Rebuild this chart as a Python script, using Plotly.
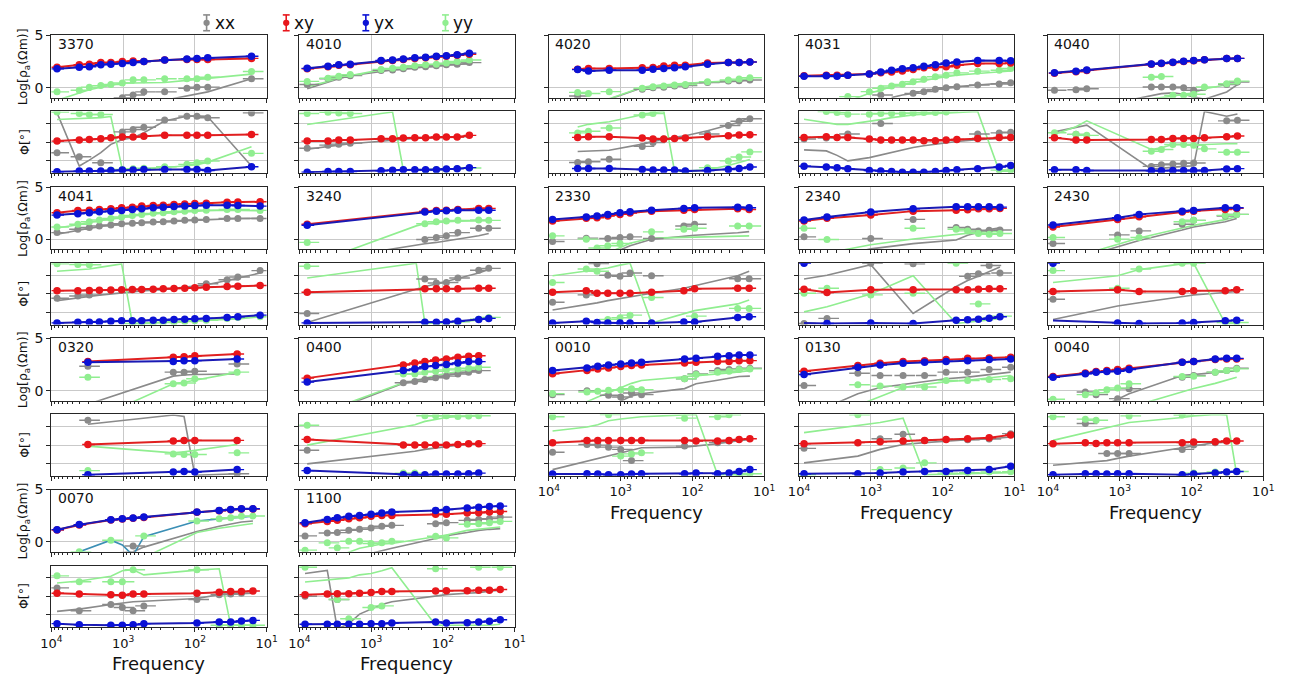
import plotly.graph_objects as go

# ---------------- data ----------------
STATIONS = ["3370", "4010", "4020", "4031", "4040",
            "4041", "3240", "2330", "2340", "2430",
            "0320", "0400", "0010", "0130", "0040",
            "0070", "1100"]

COMPONENTS = ["xx", "xy", "yx", "yy"]
X_TICK_VALS = [1e4, 1e3, 1e2, 1e1]
X_TICK_TEXT = ["10<sup>4</sup>", "10<sup>3</sup>", "10<sup>2</sup>", "10<sup>1</sup>"]
RHO_TICKS = [0, 5]
PHI_TICKS = [-90, 0, 90]

# log10 of the sounding frequencies (Hz)
LOG10_FREQ = {
    "3370": [3.92, 3.61, 3.47, 3.31, 3.17, 3.01, 2.86, 2.71, 2.42, 2.11, 1.97, 1.82, 1.21],
    "4010": [3.89, 3.6, 3.45, 3.29, 2.86, 2.7, 2.55, 2.39, 2.24, 2.09, 1.95, 1.8, 1.63],
    "4020": [3.6, 3.45, 3.16, 2.7, 2.55, 2.4, 2.25, 2.1, 1.79, 1.5, 1.35, 1.2],
    "4031": [3.93, 3.62, 3.47, 3.32, 3.02, 2.86, 2.71, 2.56, 2.41, 2.26, 2.1, 1.95, 1.8, 1.51, 1.21, 1.05],
    "4040": [3.91, 3.61, 3.46, 2.56, 2.42, 2.26, 2.11, 1.97, 1.82, 1.51, 1.36],
    "4041": [3.92, 3.63, 3.47, 3.33, 3.17, 3.02, 2.87, 2.74, 2.58, 2.44, 2.29, 2.14, 2.0, 1.84, 1.55, 1.4, 1.09],
    "3240": [3.89, 2.37, 2.25, 2.09, 1.95, 1.79, 1.5, 1.36],
    "2330": [3.95, 3.48, 3.33, 3.18, 3.01, 2.87, 2.57, 2.12, 1.97, 1.37, 1.21],
    "2340": [3.93, 3.61, 3.0, 2.41, 1.81, 1.65, 1.5, 1.35, 1.2],
    "2430": [3.93, 3.03, 2.73, 2.13, 1.97, 1.53, 1.37],
    "0320": [3.49, 2.3, 2.15, 2.0, 1.41],
    "0400": [3.89, 2.55, 2.39, 2.25, 2.1, 1.95, 1.79, 1.64, 1.5],
    "0010": [3.95, 3.47, 3.32, 3.17, 3.0, 2.85, 2.71, 2.11, 1.95, 1.65, 1.49, 1.35, 1.2],
    "0130": [3.93, 3.18, 2.87, 2.55, 2.25, 1.95, 1.65, 1.35, 1.05],
    "0040": [3.93, 3.48, 3.33, 3.18, 3.03, 2.87, 2.13, 1.97, 1.67, 1.51, 1.37],
    "0070": [3.92, 3.61, 3.17, 3.01, 2.86, 2.71, 1.97, 1.66, 1.5, 1.35, 1.19],
    "1100": [3.92, 3.61, 3.47, 3.31, 3.16, 3.0, 2.85, 2.71, 2.1, 1.95, 1.66, 1.5, 1.35, 1.2],
}

# log10 apparent resistivity, observed
RHO_XY = {
    "3370": [1.95, 2.2, 2.25, 2.4, 2.4, 2.5, 2.55, 2.5, 2.65, 2.7, 2.7, 2.7, 2.8],
    "4010": [1.8, 2.0, 2.15, 2.2, 2.55, 2.6, 2.7, 2.8, 2.85, 2.95, 3.0, 3.1, 3.2],
    "4020": [1.77, 1.83, 1.83, 1.9, 1.92, 2.08, 2.15, 2.15, 2.37, 2.4, 2.4, 2.45],
    "4031": [1.13, 1.2, 1.2, 1.2, 1.32, 1.42, 1.5, 1.6, 1.73, 1.9, 1.92, 2.0, 2.15, 2.3, 2.3, 2.37],
    "4040": [1.37, 1.53, 1.65, 2.23, 2.3, 2.4, 2.5, 2.57, 2.66, 2.78, 2.8],
    "4041": [2.55, 2.78, 2.8, 2.87, 2.93, 3.03, 3.09, 3.19, 3.25, 3.28, 3.34, 3.4, 3.43, 3.47, 3.56, 3.58, 3.6],
    "3240": [1.45, None, 2.71, 2.78, 2.8, 2.87, 2.97, 2.97],
    "2330": [1.77, 2.02, 2.08, 2.24, 2.4, 2.52, 2.71, 2.8, 2.87, 2.93, 2.87],
    "2340": [1.77, 2.02, 2.33, 2.71, 2.8, 2.85, 2.93, 2.93, 2.97],
    "2430": [1.2, 1.92, 2.18, 2.62, 2.71, 2.87, 2.97],
    "0320": [2.78, 3.19, 3.25, 3.34, 3.5],
    "0400": [1.2, 2.46, 2.65, 2.8, 2.93, 3.03, 3.19, 3.28, 3.34],
    "0010": [1.61, 1.92, 2.08, 2.18, 2.3, 2.4, 2.46, 2.65, 2.71, 2.78, 2.8, 2.87, 2.87],
    "0130": [1.86, 2.4, 2.62, 2.78, 2.87, 2.97, 3.09, 3.12, 3.19],
    "0040": [1.36, 1.7, 1.83, 1.92, 2.02, 2.15, 2.71, 2.8, 2.97, 3.03, 3.03],
    "0070": [1.14, 1.62, 2.1, 2.19, 2.25, 2.34, 2.83, 2.98, 3.08, 3.14, 3.14],
    "1100": [1.74, 1.96, 2.06, 2.22, 2.31, 2.44, 2.53, 2.53, 2.63, 2.63, 2.75, 2.78, 2.85, 2.91],
}
RHO_YX = {
    "3370": [1.8, 1.95, 2.0, 2.2, 2.25, 2.3, 2.4, 2.5, 2.65, 2.75, 2.8, 2.85, 3.0],
    "4010": [1.85, 2.05, 2.2, 2.25, 2.6, 2.65, 2.75, 2.85, 2.9, 3.0, 3.05, 3.15, 3.3],
    "4020": [1.73, 1.6, 1.67, 1.67, 1.77, 1.83, 1.9, 2.0, 2.25, 2.4, 2.4, 2.45],
    "4031": [1.1, 1.14, 1.1, 1.2, 1.32, 1.5, 1.67, 1.8, 1.9, 2.05, 2.2, 2.37, 2.46, 2.6, 2.6, 2.58],
    "4040": [1.42, 1.58, 1.7, 2.27, 2.33, 2.43, 2.52, 2.59, 2.68, 2.8, 2.8],
    "4041": [2.33, 2.46, 2.55, 2.65, 2.71, 2.78, 2.87, 2.93, 3.03, 3.09, 3.15, 3.2, 3.24, 3.28, 3.28, 3.25, 3.19],
    "3240": [1.36, None, 2.62, 2.71, 2.74, 2.8, 2.8, 2.8],
    "2330": [1.92, 2.15, 2.24, 2.4, 2.56, 2.65, 2.8, 2.97, 3.03, 3.09, 3.03],
    "2340": [1.86, 2.15, 2.62, 2.93, 3.12, 3.12, 3.12, 3.12, 3.09],
    "2430": [1.39, 2.08, 2.4, 2.71, 2.78, 3.03, 3.03],
    "0320": [2.71, 2.8, 2.87, 2.87, 3.03],
    "0400": [0.82, 1.92, 2.08, 2.3, 2.4, 2.5, 2.65, 2.78, 2.78],
    "0010": [1.92, 2.18, 2.33, 2.46, 2.56, 2.65, 2.71, 3.03, 3.09, 3.28, 3.34, 3.4, 3.4],
    "0130": [1.55, 2.24, 2.46, 2.62, 2.71, 2.8, 2.87, 2.97, 3.03],
    "0040": [1.29, 1.61, 1.77, 1.83, 1.86, 2.02, 2.71, 2.78, 3.03, 3.09, 3.09],
    "0070": [1.17, 1.65, 2.12, 2.22, 2.28, 2.37, 2.85, 3.0, 3.1, 3.16, 3.16],
    "1100": [1.84, 2.15, 2.31, 2.44, 2.53, 2.63, 2.75, 2.85, 3.0, 3.1, 3.23, 3.32, 3.39, 3.42],
}
RHO_XX = {
    "3370": [None, None, None, None, None, -0.95, -0.7, -0.4, -0.4, -0.05, 0.05, 0.05, 0.85],
    "4010": [0.3, 0.85, 1.0, 1.15, 1.65, 1.7, 1.8, 1.95, 2.0, 2.1, 2.2, 2.25, 2.4],
    "4020": [-0.8, None, None, -0.15, 0.0, 0.05, 0.15, 0.2, 0.5, 0.63, 0.66, 0.73],
    "4031": [None, None, None, None, None, -0.7, None, None, -0.54, -0.38, -0.16, 0.0, 0.1, 0.25, 0.35, 0.47],
    "4040": [-0.25, -0.19, -0.1, 0.06, 0.06, 0.06, 0.0, -0.25, None, 0.3, 0.54],
    "4041": [0.66, 0.98, 1.14, 1.3, 1.39, 1.51, 1.55, 1.6, 1.67, 1.7, 1.77, 1.83, 1.86, 1.92, 2.0, 2.0, 2.0],
    "3240": [None, None, 0.0, 0.2, 0.35, 0.66, 1.07, 1.07],
    "2330": [-0.19, 0.13, None, 0.1, 0.19, 0.25, 0.1, 1.29, 1.45, None, None],
    "2340": [0.25, None, 0.1, 1.92, 1.14, 0.98, 0.82, 0.88, 0.91],
    "2430": [-0.38, 0.44, 0.82, 1.45, 1.83, 2.24, 2.4],
    "0320": [2.33, 1.77, 1.77, 1.86, 2.55],
    "0400": [None, 0.76, 0.88, 1.07, 1.23, 1.39, 1.6, 1.77, 1.92],
    "0010": [-0.38, 0.0, None, -0.44, -0.6, -0.22, -0.38, 1.14, 1.61, 1.92, 2.02, 2.08, 2.15],
    "0130": [0.5, 1.67, 1.45, 1.45, 1.45, 1.77, 1.77, 2.02, 2.24],
    "0040": [None, -0.13, -0.38, None, -0.76, 0.19, 1.29, 1.45, 1.77, 1.92, 2.15],
    "0070": [None, None, None, None, -0.4, None, None, None, None, None, None],
    "1100": [0.57, 0.85, 0.89, 1.11, 1.2, 1.33, 1.49, 1.58, 1.74, 1.84, 2.06, 2.15, 2.22, 2.37],
}
RHO_YY = {
    "3370": [-0.4, -0.25, 0.05, 0.2, 0.3, 0.45, 0.75, 0.75, 0.85, 0.85, 0.85, 1.0, 1.55],
    "4010": [0.6, 0.9, 1.1, 1.25, 1.75, 1.85, 1.95, 2.1, 2.2, 2.25, 2.35, 2.5, 2.65],
    "4020": [-0.45, -0.55, -0.38, -0.06, 0.1, 0.16, 0.25, 0.3, 0.57, 0.73, 0.82, 0.95],
    "4031": [None, None, None, -0.85, -0.38, -0.06, 0.16, 0.32, 0.57, 0.8, 1.04, 1.2, 1.42, 1.58, 1.67, 1.83],
    "4040": [None, None, None, 1.0, 1.07, -0.73, -0.73, -0.63, 0.06, 0.38, 0.63],
    "4041": [1.2, 1.45, 1.7, 1.86, 2.0, 2.15, 2.3, 2.4, 2.5, 2.55, 2.65, 2.71, 2.78, 2.8, 2.87, 2.87, 2.78],
    "3240": [-0.28, None, 1.51, 1.7, 1.77, 1.83, 1.86, 1.83],
    "2330": [0.35, 0.03, -0.82, -0.6, -0.38, None, 0.73, 0.98, 1.07, 1.29, 1.29],
    "2340": [1.07, 0.0, None, 1.07, 0.98, 0.82, 0.57, 0.5, 0.57],
    "2430": [0.19, 0.03, 0.19, 1.7, 1.83, 2.3, 2.4],
    "0320": [1.29, 0.66, 0.73, 1.14, 1.77],
    "0400": [None, 1.6, 1.6, 1.77, 1.86, 1.99, 2.08, 2.15, 2.24],
    "0010": [-0.28, -0.13, -0.06, 0.03, 0.1, 0.19, 0.1, 1.14, 1.55, 1.77, 1.86, 2.02, 2.08],
    "0130": [None, 0.57, 0.44, 0.35, 0.35, 0.98, 0.98, 1.07, 1.14],
    "0040": [-0.82, -0.38, -0.19, 0.1, 0.25, 0.66, 1.36, 1.39, 1.77, 1.92, 2.08],
    "0070": [None, -0.95, 0.16, None, None, 0.57, 2.0, 2.22, 2.31, 2.44, 2.47],
    "1100": [-0.79, -0.09, -0.57, 0.06, 0.06, -0.16, -0.09, 0.06, 0.54, 0.38, 1.68, 1.74, 1.84, 1.96],
}
# log10 apparent resistivity, model response (diagonal components)
MOD_RHO_XX = {
    "3370": [None, None, None, None, None, None, None, None, -1.2, -0.75, -0.55, -0.4, 0.85],
    "4010": [-0.1, 0.55, 0.85, 1.15, 1.6, 1.7, 1.8, 1.9, 2.0, 2.1, 2.15, 2.2, 2.35],
    "4020": [None, None, -1.1, 0.0, 0.15, 0.25, 0.3, 0.4, 0.5, 0.57, 0.63, 0.8],
    "4031": [None, None, None, None, None, None, -0.95, -0.7, -0.54, -0.3, -0.16, 0.0, 0.1, 0.25, 0.37, 0.5],
    "4040": [None, None, -2.0, -0.73, -0.57, -0.5, -0.63, -0.88, -1.1, -0.41, 0.3],
    "4041": [0.5, 0.9, 1.1, 1.25, 1.37, 1.48, 1.55, 1.6, 1.65, 1.7, 1.75, 1.8, 1.85, 1.9, 1.97, 2.0, 2.02],
    "3240": [-2.2, -0.5, -0.41, -0.28, -0.13, 0.03, 0.35, 0.57],
    "2330": [None, None, None, -1.6, -1.0, -0.6, 0.03, 0.3, 0.4, 0.65, 0.75],
    "2340": [None, -1.8, -0.9, -0.4, -0.05, 0.4, 0.7, 0.95, 1.12],
    "2430": [-2.5, -0.7, -0.1, 0.9, 1.2, 1.7, 2.0],
    "0320": [-1.3, 1.39, 1.5, 1.55, 1.6],
    "0400": [-2.8, 0.7, 0.9, 1.1, 1.3, 1.45, 1.65, 1.8, 1.9],
    "0010": [None, None, None, -1.4, -1.0, -0.5, -0.3, 0.2, 0.66, 1.0, 1.2, 1.35, 1.39],
    "0130": [-2.5, -0.3, 0.3, 0.6, 0.9, 1.14, 1.3, 1.5, 1.77],
    "0040": [None, None, None, -1.3, -0.8, -0.3, 1.45, 1.55, 1.7, 1.8, 1.92],
    "0070": [None, None, -1.1, -1.0, -0.95, -0.5, 1.0, 1.5, 1.7, 1.9, 2.0],
    "1100": [None, None, None, None, None, -1.1, -0.85, -0.6, 0.32, 0.6, 0.9, 1.1, 1.2, 1.27],
}
MOD_RHO_YY = {
    "3370": [-1.2, -0.5, -0.2, 0.05, 0.25, 0.45, 0.45, 0.45, 0.5, 0.7, 0.8, 0.85, 1.3],
    "4010": [0.1, 0.6, 0.95, 1.15, 1.7, 1.8, 1.9, 2.05, 2.15, 2.2, 2.3, 2.45, 2.6],
    "4020": [None, None, -1.05, 0.05, 0.18, 0.28, 0.33, 0.42, 0.55, 0.62, 0.68, 0.85],
    "4031": [None, None, None, -1.3, -0.54, -0.22, 0.1, 0.3, 0.5, 0.73, 0.88, 1.04, 1.2, 1.35, 1.5, 1.6],
    "4040": [None, None, -2.2, -1.05, -0.95, -0.82, -0.6, -0.5, -0.1, 0.22, 0.44],
    "4041": [1.1, 1.4, 1.65, 1.82, 1.97, 2.1, 2.25, 2.35, 2.45, 2.52, 2.6, 2.67, 2.72, 2.76, 2.8, 2.8, 2.75],
    "3240": [-2.5, 1.3, 1.5, 1.62, 1.7, 1.75, 1.8, 1.8],
    "2330": [None, None, None, -1.3, -0.75, -0.35, 0.13, 0.2, 0.25, 0.3, 0.35],
    "2340": [None, -1.3, -0.5, 0.05, 0.5, 0.6, 0.7, 0.75, 0.78],
    "2430": [-2.3, -0.5, 0.15, 1.1, 1.35, 1.9, 2.2],
    "0320": [-3.0, 0.66, 0.8, 1.0, 1.75],
    "0400": [-2.6, 0.75, 0.95, 1.2, 1.45, 1.65, 1.85, 2.0, 2.1],
    "0010": [-2.5, -1.0, -0.6, -0.2, 0.3, 0.7, 0.98, 1.3, 1.45, 1.6, 1.7, 1.8, 1.92],
    "0130": [None, -1.4, -0.6, 0.3, 0.6, 0.85, 1.0, 1.2, 1.45],
    "0040": [None, None, None, None, None, -1.6, -0.1, 0.2, 0.7, 1.0, 1.29],
    "0070": [None, None, None, None, None, -1.5, 0.9, 1.3, 1.45, 1.6, 1.75],
    "1100": [None, None, -1.4, -1.0, -0.6, -0.4, -0.2, -0.16, 0.47, 0.65, 1.1, 1.2, 1.3, 1.42],
}
# extra (teal) response curve seen only at station 0070
TEAL_RHO = {
    "0070": [None, -0.95, 0.16, -0.3, -1.3, 0.5, 2.0, 2.2, 2.3, 2.4, 2.45],
}

# phases (degrees), observed
PHI_XY = {
    "3370": [5, 10, 13, 16, 21, 25, 25, 29, 33, 33, 33, 33, 37],
    "4010": [5, 5, 10, 10, 16, 16, 20, 21, 21, 25, 25, 25, 33],
    "4020": [23, 26, 26, 20, 15, 15, 18, 20, 26, 31, 35, 36],
    "4031": [23, 26, 23, 23, 15, 10, 10, 10, 10, 7, 7, 10, 13, 18, 23, 23],
    "4040": [21, 10, 10, 13, 13, 18, 18, 18, 21, 26, 30],
    "4041": [16, 16, 17, 18, 19, 20, 21, 22, 23, 25, 26, 28, 30, 33, 36, 38, 41],
    "3240": [8, None, 25, 25, 25, 25, 28, 28],
    "2330": [8, 16, 3, 3, 3, 3, 8, 16, 25, 28, 28],
    "2340": [23, 7, 20, 20, 20, 20, 23, 25, 25],
    "2430": [12, 20, 12, 12, 16, 16, 20],
    "0320": [3, 20, 23, 23, 23],
    "0400": [28, 0, 0, 0, 0, 0, 3, 7, 7],
    "0010": [12, 23, 23, 23, 23, 23, 23, 23, 20, 20, 23, 28, 31],
    "0130": [7, 12, 16, 20, 23, 28, 31, 36, 50],
    "0040": [7, 12, 8, 12, 12, 12, 12, 15, 16, 20, 20],
    "0070": [15, 11, 8, 5, 11, 11, 15, 20, 23, 23, 26],
    "1100": [8, 11, 12, 12, 15, 18, 23, 23, 26, 27, 27, 30, 30, 33],
}
PHI_YX = {
    "3370": [-145, -142, -142, -142, -139, -137, -137, -134, -134, -134, -134, -139, -121],
    "4010": [-147, -144, -144, -144, -140, -138, -135, -135, -135, -135, -132, -130, -125],
    "4020": [-129, -129, -129, -134, -137, -137, -137, -142, -139, -134, -129, -122],
    "4031": [-118, -122, -126, -131, -139, -142, -144, -147, -147, -147, -144, -139, -135, -131, -122, -114],
    "4040": [-135, -135, -139, -140, -140, -139, -139, -139, -139, -132, -130],
    "4041": [-142, -139, -139, -137, -134, -132, -132, -131, -129, -129, -125, -124, -122, -120, -115, -112, -104],
    "3240": [-142, None, -139, -139, -137, -134, -125, -120],
    "2330": [-142, -134, -140, -142, -142, -142, -142, -137, -137, -115, -112],
    "2340": [150, -145, -142, -145, -129, -127, -124, -119, -112],
    "2430": [150, -142, -145, -142, -140, -132, -129],
    "0320": [-145, -132, -129, -132, -120],
    "0400": [-125, -145, -145, -145, -142, -142, -142, -140, -137],
    "0010": [-142, -140, -142, -145, -145, -142, -140, -140, -137, -140, -137, -129, -120],
    "0130": [-140, -140, -137, -132, -129, -129, -125, -120, -104],
    "0040": [-145, -140, -140, -142, -140, -140, -145, -142, -137, -132, -129],
    "0070": [-134, -139, -142, -142, -139, -134, -131, -126, -126, -121, -118],
    "1100": [-137, -137, -137, -137, -137, -134, -134, -131, -126, -131, -129, -126, -122, -115],
}
# yx phase response curve where it differs from the (wrapped) observations
MOD_PHI_YX = {
    "2340": [-142, -145, -142, -145, -129, -127, -124, -119, -112],
    "2430": [-130, -142, -145, -142, -140, -132, -129],
}
PHI_XX = {
    "3370": [-52, -72, None, -101, None, 50, 62, 73, 108, 127, 127, 119, 143],
    "4010": [-30, -15, -10, -5, None, None, None, None, None, None, None, None, None],
    "4020": [-100, -96, -84, -21, -2, 15, None, None, 40, 81, 102, 114],
    "4031": [15, 20, None, 40, None, 91, None, None, None, None, None, None, None, 40, 45, 48],
    "4040": [None, 38, None, -119, -111, -107, -104, -102, None, 104, 107],
    "4041": [-21, -10, -5, None, None, None, None, None, None, None, None, None, None, 50, 69, 83, 114],
    "3240": [-96, None, 73, 53, 56, 78, 116, 125],
    "2330": [-41, -5, 148, 91, 86, 102, 89, None, None, 74, 74],
    "2340": [-145, -120, 150, 147, None, 86, 99, 139, 102],
    "2430": [-26, None, None, None, None, None, None],
    "0320": [122, None, None, None, -140],
    "0400": [-25, None, None, None, None, None, None, None, None],
    "0010": [-35, 3, 0, -10, -21, -76, None, -5, None, 12, 20, None, None],
    "0130": [-16, None, 31, 53, 23, None, 26, 30, 56],
    "0040": [None, 106, None, -41, -41, -41, -21, 0, 12, None, None],
    "0070": [41, -71, -40, -55, -71, -47, -16, 8, 11, 15, None],
    "1100": [0, None, -16, None, None, None, None, None, None, None, None, None, None, None],
}
PHI_YY = {
    "3370": [147, 140, 135, 135, -137, -134, -130, -128, -121, -109, -101, -93, -55],
    "4010": [140, 146, 143, 140, None, None, None, None, -138, -135, -133, -130, -127],
    "4020": [45, 53, 69, 133, 140, None, None, -142, -125, -92, -73, -48],
    "4031": [None, 150, 145, 137, 137, 140, 140, 140, 143, 145, 145, 147, None, None, -137, -137],
    "4040": [46, 38, 33, -45, -36, -12, -12, -16, -33, -50, -50],
    "4041": [147, 144, 143, None, None, None, -145, -145, -142, -140, -139, -135, -132, -129, -120, -116, -112],
    "3240": [135, None, -137, -142, -137, -137, -124, -115],
    "2330": [56, 122, 111, -125, -117, -104, -18, None, -109, -71, -71],
    "2340": [3, 28, -5, 3, 150, None, -49, -119, -109],
    "2430": [114, 28, 122, 150, 150, -140, -140],
    "0320": [-125, -43, -46, -46, -38],
    "0400": [97, -137, -137, 144, 144, 144, 140, 142, 144],
    "0010": [139, None, None, 149, -54, -43, -38, 132, None, 139, 148, -145, -140],
    "0130": [-145, 148, -120, -112, -87, -137, -135, -132, -130],
    "0040": [139, 127, 122, None, None, 143, 147, -137, -132, -132, -129],
    "0070": [100, 71, 71, 71, 130, None, 130, -142, -142, -142, -142],
    "1100": [142, None, -16, -110, None, -55, -47, None, 135, None, None, 142, None, 142],
}
# phases (degrees), model response (diagonal components)
MOD_PHI_XX = {
    "3370": [143, -117, -88, -52, -11, 13, 21, 46, 103, 127, 127, 124, -117],
    "4010": [-35, -20, -15, -8, 5, 12, 15, 18, 20, 22, 22, 23, 28],
    "4020": [-46, -44, -40, -10, 2, 15, 23, 31, 56, 81, 97, 122],
    "4031": [-38, -43, -65, -92, -76, -63, -51, -38, -26, -18, -10, -3, 3, 12, 15, 20],
    "4040": [50, 70, 83, -132, -127, -124, -119, -116, 150, 127, 138],
    "4041": [-33, -22, -13, -6, 0, 7, 12, 15, 18, 20, 27, 33, 38, 45, 66, 78, 102],
    "3240": [-140, 20, 36, 48, 61, 78, 102, 119],
    "2330": [-79, -54, -44, -33, -22, -13, 3, 28, 40, 89, 111],
    "2340": [73, 91, 143, -96, 36, 66, 86, 111, 132],
    "2430": [-125, -59, -43, -13, -5, 7, 12],
    "0320": [102, 147, 140, -148, -140],
    "0400": [-92, -38, -30, -21, -13, -5, 0, 3, 5],
    "0010": [-120, -79, -66, -54, -40, -26, -13, -10, -5, 7, 16, 20, 28],
    "0130": [-87, -54, -21, 3, 12, 20, 26, 30, 40],
    "0040": [-99, -87, -82, -76, -65, -54, -13, -5, 12, 15, 20],
    "0070": [-74, -63, -40, -32, -27, -24, -11, 8, 11, 13, 15],
    "1100": [112, 127, -160, -134, -87, -63, -40, -27, 0, 8, 15, 18, 25, 30],
}
MOD_PHI_YY = {
    "3370": [111, 115, 117, 120, 125, -134, -132, -130, -124, -116, -111, -98, -23],
    "4010": [86, 102, 111, 119, 140, 147, -137, -135, -134, -133, -132, -130, -126],
    "4020": [74, 87, 100, 133, 145, 150, -142, -142, -135, -115, -100, -85],
    "4031": [112, 96, 87, 87, 100, 110, 120, 127, 133, 137, 140, 143, 145, 150, -142, -142],
    "4040": [38, 75, 104, -36, -28, -12, -12, -12, -12, -8, -8],
    "4041": [111, 117, 122, 130, 137, 147, -145, -143, -141, -139, -137, -135, -133, -129, -126, -123, -112],
    "3240": [78, 150, -145, -143, -140, -138, -128, -120],
    "2330": [89, 111, 119, 127, 141, 150, -142, -96, -82, -49, -30],
    "2340": [-88, -63, 0, 89, -145, -140, -135, -128, -120],
    "2430": [56, 89, 119, 147, 150, -145, -145],
    "0320": [-5, -38, -33, -26, 3],
    "0400": [0, 86, 100, 116, 125, 135, 140, 143, 147],
    "0010": [69, 89, 100, 119, 128, 135, 139, 148, 150, -145, -145, -145, -142],
    "0130": [61, 94, 111, 132, -145, -142, -140, -137, -135],
    "0040": [23, 61, 72, 86, 98, 111, 135, 143, 150, 147, -145],
    "0070": [65, 75, 98, 125, 130, 105, 128, 135, -142, -142, -142],
    "1100": [70, 82, 86, 90, 105, 112, 125, 140, -142, -142, -145, -142, -142, -137],
}

# ---------------- styling / layout ----------------
W, H = 1290, 680
FONT = "DejaVu Sans"
COLORS = {"xx": "#8a8a8a", "xy": "#e8161b", "yx": "#0b12d6", "yy": "#90ee90"}
LINE_COLORS = {"xx": "#8a8a8a", "xy": "#e02020", "yx": "#1a1ab4", "yy": "#90ee90"}
TEAL = "#3b8fb5"
AXC = "#262626"
GRIDC = "#c9c9c9"

COL_LEFT = [41, 293.3, 547.3, 801.7, 1055]
PANEL_W = 219
GROUP_TOP = [27.7, 181.3, 334.3, 487.3]
RHO_H = 63
PHI_OFF = 77
PHI_H = 62
RHO_RANGE = [-0.95, 5]
PHI_RANGE = [-150, 150]
MINOR_X = [k * 10 ** d for d in (1, 2, 3) for k in range(2, 10)]

fig = go.Figure()
layout_axes = {}
annotations = []
shapes = []


def ax_names(k):
    s = "" if k == 1 else str(k)
    return "x" + s, "y" + s, "xaxis" + s, "yaxis" + s


def xdom(c):
    return [COL_LEFT[c] / W, (COL_LEFT[c] + PANEL_W) / W]


def ydom(top, h):
    return [1 - (top + h) / H, 1 - top / H]


last_group_in_col = {}
for i, st in enumerate(STATIONS):
    last_group_in_col[i % 5] = i // 5

for i, st in enumerate(STATIONS):
    g, c = i // 5, i % 5
    freqs = [10 ** v for v in LOG10_FREQ[st]]
    bottom = (g == last_group_in_col[c])
    for p in range(2):
        k = 2 * i + 1 + p
        xn, yn, xkey, ykey = ax_names(k)
        if p == 0:
            top, h, yr, ytv = GROUP_TOP[g], RHO_H, RHO_RANGE, RHO_TICKS
            series = {"xx": RHO_XX[st], "xy": RHO_XY[st], "yx": RHO_YX[st], "yy": RHO_YY[st]}
            models = {"xx": MOD_RHO_XX[st], "yy": MOD_RHO_YY[st]}
            curves = {"xy": RHO_XY[st], "yx": RHO_YX[st]}
        else:
            top, h, yr, ytv = GROUP_TOP[g] + PHI_OFF, PHI_H, PHI_RANGE, PHI_TICKS
            series = {"xx": PHI_XX[st], "xy": PHI_XY[st], "yx": PHI_YX[st], "yy": PHI_YY[st]}
            models = {"xx": MOD_PHI_XX[st], "yy": MOD_PHI_YY[st]}
            curves = {"xy": PHI_XY[st], "yx": MOD_PHI_YX.get(st, PHI_YX[st])}

        layout_axes[xkey] = dict(
            domain=xdom(c), anchor=yn, type="log", range=[4, 1], autorange=False,
            tickmode="array", tickvals=X_TICK_VALS, ticktext=X_TICK_TEXT,
            showticklabels=(p == 1 and bottom),
            ticks="outside", ticklen=4, tickwidth=1, tickcolor=AXC,
            minor=dict(tickmode="array", tickvals=MINOR_X, ticks="outside", ticklen=2.5,
                       tickwidth=1, tickcolor=AXC, showgrid=False),
            showgrid=True, gridcolor=GRIDC, gridwidth=1,
            showline=True, linecolor=AXC, linewidth=1, mirror=True, zeroline=False,
            tickfont=dict(family=FONT, size=13, color="#111"),
        )
        layout_axes[ykey] = dict(
            domain=ydom(top, h), anchor=xn, range=yr, autorange=False,
            tickmode="array", tickvals=ytv, ticktext=[str(v) for v in ytv],
            showticklabels=(p == 0 and c == 0),
            ticks="outside", ticklen=4, tickwidth=1, tickcolor=AXC,
            showgrid=True, gridcolor=GRIDC, gridwidth=1,
            showline=True, linecolor=AXC, linewidth=1, mirror=True, zeroline=False,
            tickfont=dict(family=FONT, size=14, color="#111"),
        )

        # model curves of the diagonal components
        for comp in ("xx", "yy"):
            fig.add_trace(go.Scatter(
                x=freqs, y=models[comp], mode="lines", xaxis=xn, yaxis=yn,
                line=dict(color=LINE_COLORS[comp], width=1.6), showlegend=False,
                hoverinfo="skip"))
        if p == 0 and st in TEAL_RHO:
            fig.add_trace(go.Scatter(
                x=freqs, y=TEAL_RHO[st], mode="lines", xaxis=xn, yaxis=yn,
                line=dict(color=TEAL, width=1.6), showlegend=False, hoverinfo="skip"))
        # observed diagonal components
        for comp in ("xx", "yy"):
            fig.add_trace(go.Scatter(
                x=freqs, y=series[comp], mode="markers", xaxis=xn, yaxis=yn,
                marker=dict(color=COLORS[comp], size=7),
                error_x=dict(type="percent", value=32, thickness=1.4, width=0,
                             color=COLORS[comp]),
                showlegend=False, name=comp))
        # off-diagonal: response curve + observations
        for comp in ("xy", "yx"):
            fig.add_trace(go.Scatter(
                x=freqs, y=curves[comp], mode="lines", xaxis=xn, yaxis=yn,
                connectgaps=True, line=dict(color=LINE_COLORS[comp], width=2),
                showlegend=False, hoverinfo="skip"))
            fig.add_trace(go.Scatter(
                x=freqs, y=series[comp], mode="markers", xaxis=xn, yaxis=yn,
                marker=dict(color=COLORS[comp], size=7.5),
                error_x=dict(type="percent", value=20, thickness=1.4, width=0,
                             color=COLORS[comp]),
                showlegend=False, name=comp))

        if p == 0:
            annotations.append(dict(
                text=st, xref=xn + " domain", yref=yn + " domain", x=0.02, y=1.02,
                xanchor="left", yanchor="top", showarrow=False,
                font=dict(family=FONT, size=14, color="#111")))
        if c == 0:
            ymid = 1 - (top + h / 2) / H
            annotations.append(dict(
                text="Log[ρ<sub>a</sub>(Ωm)]" if p == 0 else "Φ[°]",
                xref="paper", yref="paper", x=13 / W, y=ymid, textangle=-90,
                xanchor="center", yanchor="middle", showarrow=False,
                font=dict(family=FONT, size=12.5, color="#111")))
        if p == 1 and bottom:
            annotations.append(dict(
                text="Frequency", xref="paper", yref="paper",
                x=(COL_LEFT[c] + PANEL_W / 2) / W, y=1 - (top + h + 37) / H,
                xanchor="center", yanchor="middle", showarrow=False,
                font=dict(family=FONT, size=18, color="#111")))

# ---------------- legend (error-bar glyphs drawn as shapes) ----------------
LEG_X0, LEG_DX, LEG_Y = 199, 81, 15


def px(v):
    return v / W


def py(v):
    return 1 - v / H


for j, comp in enumerate(COMPONENTS):
    cx = LEG_X0 + LEG_DX * j
    col = COLORS[comp]
    shapes.append(dict(type="line", xref="paper", yref="paper",
                       x0=px(cx), x1=px(cx), y0=py(LEG_Y - 8), y1=py(LEG_Y + 8),
                       line=dict(color=col, width=1.6)))
    for dy in (-8, 8):
        shapes.append(dict(type="line", xref="paper", yref="paper",
                           x0=px(cx - 3.5), x1=px(cx + 3.5), y0=py(LEG_Y + dy), y1=py(LEG_Y + dy),
                           line=dict(color=col, width=1.6)))
    shapes.append(dict(type="circle", xref="paper", yref="paper",
                       x0=px(cx - 3.2), x1=px(cx + 3.2), y0=py(LEG_Y - 3.2), y1=py(LEG_Y + 3.2),
                       fillcolor=col, line=dict(color=col, width=0)))
    annotations.append(dict(text=comp, xref="paper", yref="paper", x=px(cx + 6), y=py(LEG_Y),
                            xanchor="left", yanchor="middle", showarrow=False,
                            font=dict(family=FONT, size=17, color="#111")))

fig.update_layout(
    width=W, height=H, margin=dict(l=0, r=0, t=0, b=0),
    paper_bgcolor="white", plot_bgcolor="white",
    font=dict(family=FONT, size=13, color="#111"),
    showlegend=False, annotations=annotations, shapes=shapes,
    **layout_axes,
)

fig.write_html("out.html")
